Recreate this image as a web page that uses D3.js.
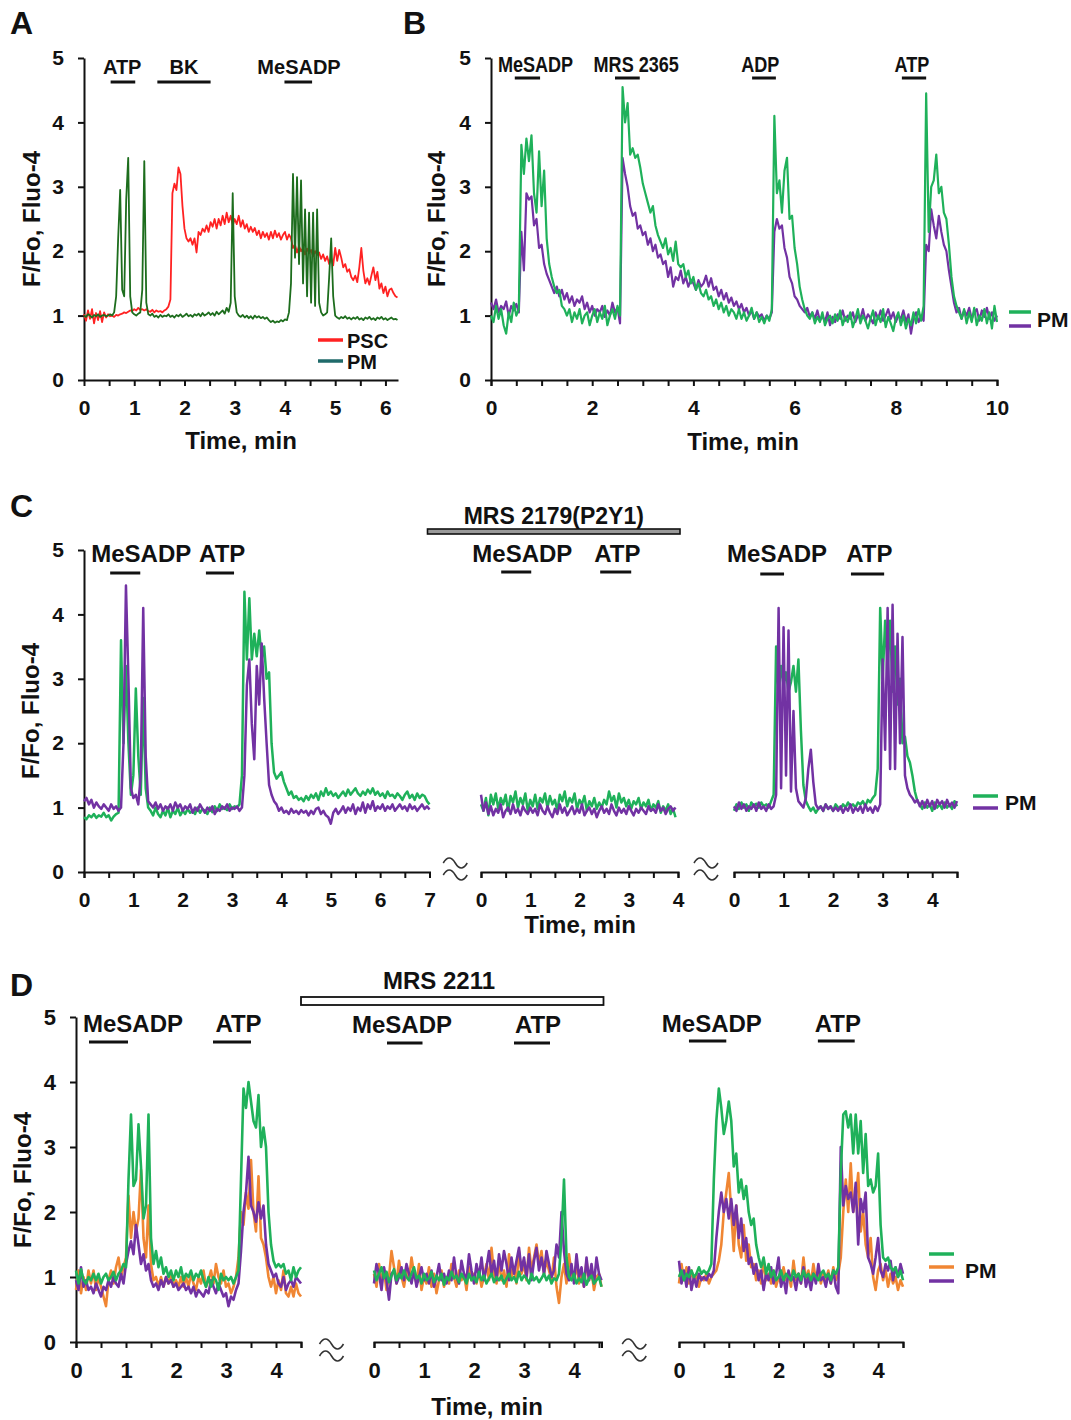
<!DOCTYPE html>
<html>
<head>
<meta charset="utf-8">
<script src="https://cdn.jsdelivr.net/npm/d3@7/dist/d3.min.js"></script>
<style>
  body { margin: 0; background: #fff; }
</style>
</head>
<body>
<div id="chart"></div>
<script>
// ---- sampling steps (min) ----
const dtA = 0.04;
const dt = 0.05;

// ---- tick labels ----
const ticksY = [0, 1, 2, 3, 4, 5];
const ticksA = [0, 1, 2, 3, 4, 5, 6];
const ticksB = [0, 2, 4, 6, 8, 10];
const ticksC1 = [0, 1, 2, 3, 4, 5, 6, 7];
const ticksShort = [0, 1, 2, 3, 4];

// ---- drug applications (minutes; mid = label centre) ----
const drugsA = [
  {name: 'ATP', on: 0.53, off: 1.02, mid: 0.76},
  {name: 'BK', on: 1.46, off: 2.52, mid: 1.99},
  {name: 'MeSADP', on: 3.99, off: 4.54, mid: 4.28}
];
const drugsB = [
  {name: 'MeSADP', on: 0.47, off: 0.97, mid: 0.88},
  {name: 'MRS 2365', on: 2.45, off: 2.94, mid: 2.87},
  {name: 'ADP', on: 5.16, off: 5.63, mid: 5.32},
  {name: 'ATP', on: 8.12, off: 8.6, mid: 8.32}
];
const drugsC1 = [
  {name: 'MeSADP', on: 0.53, off: 1.14, mid: 1.16},
  {name: 'ATP', on: 2.47, off: 3.04, mid: 2.8}
];
const drugsC2 = [
  {name: 'MeSADP', on: 0.41, off: 1.02, mid: 0.84},
  {name: 'ATP', on: 2.42, off: 3.05, mid: 2.77}
];
const drugsC3 = [
  {name: 'MeSADP', on: 0.53, off: 1.01, mid: 0.87},
  {name: 'ATP', on: 2.36, off: 3.03, mid: 2.73}
];
const drugsD1 = [
  {name: 'MeSADP', on: 0.26, off: 1.04, mid: 1.14},
  {name: 'ATP', on: 2.74, off: 3.5, mid: 3.25}
];
const drugsD2 = [
  {name: 'MeSADP', on: 0.26, off: 0.97, mid: 0.56},
  {name: 'ATP', on: 2.8, off: 3.52, mid: 3.28}
];
const drugsD3 = [
  {name: 'MeSADP', on: 0.2, off: 0.95, mid: 0.66},
  {name: 'ATP', on: 2.79, off: 3.53, mid: 3.19}
];

// ---- Panel A (step dtA) ----
const aPSC = [1.02,0.92,1.08,0.95,1.10,0.88,1.04,0.93,1.07,0.90,1.05,0.97,1.02,
  0.99,1.00,0.98,1.01,1.00,1.02,1.03,1.05,1.04,1.06,1.08,1.07,1.10,1.08,1.12,1.09,1.10,
  1.08,1.10,1.07,1.06,1.09,1.05,1.08,1.06,1.07,1.05,1.08,1.10,1.14,1.25,
  2.90,3.05,2.95,3.30,3.20,2.70,2.35,2.20,2.15,2.20,
  2.10,2.20,1.98,2.30,2.25,2.35,2.30,2.40,2.30,2.45,
  2.38,2.50,2.35,2.50,2.40,2.55,2.42,2.60,2.45,2.55,
  2.40,2.50,2.42,2.55,2.38,2.48,2.35,2.42,2.30,2.38,
  2.30,2.36,2.25,2.32,2.20,2.30,2.22,2.28,2.18,2.30,
  2.20,2.32,2.22,2.28,2.18,2.25,2.30,2.18,2.26,2.20,
  2.05,2.10,1.98,2.08,2.00,2.05,1.95,2.04,1.97,2.02,
  1.92,2.00,1.94,1.98,1.88,1.95,1.85,1.92,1.80,1.90,
  1.78,2.05,1.85,2.02,1.90,1.75,1.80,1.68,1.72,1.60,
  1.55,1.62,1.52,1.75,2.05,1.70,1.50,1.58,1.48,1.62,
  1.75,1.55,1.68,1.42,1.50,1.35,1.45,1.30,1.40,1.42,
  1.35,1.30,1.28];
const aPM = [1.00,0.98,1.02,1.00,0.97,1.01,0.99,1.02,0.98,1.00,1.01,0.99,1.00,1.02,1.00,1.05,
  1.30,2.20,2.95,1.40,1.30,2.80,3.45,1.30,1.05,1.02,1.00,1.03,1.05,1.40,3.40,1.20,
  1.02,1.00,1.03,0.98,1.00,0.97,1.01,0.98,1.00,0.99,1.02,0.98,1.00,0.97,1.01,0.99,
  1.02,0.98,1.00,1.03,0.99,1.01,0.98,1.02,1.00,1.03,0.99,1.04,1.00,1.02,1.05,1.01,
  1.04,1.00,1.06,1.02,1.05,1.08,1.03,1.12,1.06,1.20,2.90,1.30,1.05,1.00,0.98,1.01,
  0.97,1.00,0.96,0.99,0.95,1.00,0.97,0.99,0.96,0.98,0.95,0.97,0.93,0.90,0.92,0.89,
  0.91,0.90,0.93,0.91,0.94,0.93,1.05,1.50,3.20,1.90,3.15,1.80,3.10,1.50,2.65,1.30,
  2.60,1.20,2.60,1.15,2.65,1.20,1.05,1.00,1.02,1.05,1.60,2.20,1.30,1.00,
  0.97,0.95,0.98,0.96,0.99,0.95,0.97,0.94,0.97,0.95,0.98,0.94,0.96,0.93,0.97,
  0.95,0.98,0.94,0.96,0.93,0.97,0.95,0.98,0.94,0.96,0.93,0.95,0.97,0.94,0.95,0.93];

// ---- Panel B (step dt) ----
const bGreen = [1.00,0.90,1.15,0.95,1.10,0.85,0.72,1.05,0.90,1.20,
  1.00,1.10,3.65,3.20,3.75,3.40,3.80,2.90,2.60,3.55,
  2.70,3.25,2.20,1.80,1.60,1.45,1.35,1.40,1.15,1.10,
  1.00,1.10,0.90,1.05,0.95,1.10,0.88,1.00,1.05,0.85,
  1.00,1.10,0.90,1.05,0.95,1.15,0.85,1.00,1.10,0.95,
  1.15,1.00,4.55,4.00,4.30,3.50,3.60,3.45,3.50,3.30,
  3.05,2.90,2.75,2.60,2.70,2.40,2.25,2.15,2.05,2.20,
  1.95,2.05,1.85,2.15,1.80,1.75,1.80,1.60,1.70,1.50,
  1.60,1.40,1.50,1.35,1.30,1.40,1.25,1.30,1.15,1.25,
  1.10,1.20,1.05,1.15,1.00,1.10,1.05,0.95,1.10,0.95,
  1.05,0.92,1.00,1.12,0.95,1.05,0.90,0.98,0.88,1.00,
  0.92,1.10,4.10,2.90,3.10,2.60,3.25,3.45,2.50,2.55,
  2.05,1.80,1.45,1.25,1.10,1.00,0.95,1.05,0.88,0.98,
  0.90,1.05,0.85,0.95,1.00,0.88,1.02,0.92,1.08,0.85,
  0.98,0.90,1.05,0.82,0.95,1.10,0.88,1.00,0.92,0.80,
  0.95,1.08,0.85,1.00,0.90,1.10,0.82,0.98,0.88,0.76,
  0.95,1.05,0.85,1.00,0.80,0.95,0.85,1.05,0.88,1.10,
  0.92,1.15,4.45,2.30,3.00,3.10,3.50,2.90,3.00,2.60,
  2.50,2.10,1.60,1.30,1.15,1.05,0.95,1.10,0.88,1.05,
  0.90,1.12,0.85,1.00,0.92,1.10,0.88,1.05,0.80,1.15,
  0.90];
const bPurple = [1.20,1.10,1.25,1.05,1.15,1.10,1.22,1.00,1.15,1.08,
  1.18,1.05,2.30,1.70,2.90,2.80,2.85,2.40,2.50,2.05,
  2.10,1.80,1.65,1.55,1.45,1.35,1.45,1.30,1.40,1.25,
  1.35,1.20,1.30,1.15,1.25,1.20,1.30,1.10,1.20,1.05,
  1.15,1.00,1.10,1.05,1.15,0.98,1.08,1.00,1.20,1.05,
  1.12,0.88,3.45,3.20,3.00,2.70,2.55,2.60,2.35,2.40,
  2.25,2.30,2.10,2.20,2.00,2.10,1.90,1.95,1.80,1.85,
  1.60,1.75,1.45,1.60,1.55,1.70,1.50,1.60,1.45,1.55,
  1.50,1.40,1.55,1.45,1.50,1.62,1.45,1.58,1.40,1.45,
  1.30,1.40,1.25,1.35,1.20,1.28,1.15,1.22,1.10,1.18,
  1.05,1.12,1.00,1.08,0.95,1.05,0.98,1.02,0.92,1.00,
  0.95,1.05,2.30,2.50,2.35,2.40,2.05,1.90,1.60,1.50,
  1.30,1.25,1.15,1.10,1.05,1.12,0.98,1.05,0.95,1.08,
  0.92,1.00,0.90,1.05,0.85,0.98,0.90,1.02,0.95,1.08,
  0.92,1.00,0.95,1.05,0.90,1.00,0.95,1.10,0.92,1.02,
  0.96,0.88,1.05,0.95,1.08,0.92,1.00,1.10,0.95,1.05,
  0.90,1.00,0.95,1.08,0.90,1.02,0.72,0.95,1.05,0.90,
  1.00,0.92,2.10,2.00,2.65,2.40,2.20,2.55,2.30,2.10,
  2.00,1.70,1.45,1.20,1.05,1.12,0.95,1.08,1.00,1.12,
  0.95,1.05,1.10,0.92,1.08,0.98,1.12,0.95,1.05,0.92,
  1.00];

// ---- Panel C (step dt) ----
const c1Green = [0.85,0.82,0.88,0.85,0.90,0.84,0.88,0.86,0.92,0.85,
  0.88,0.80,0.86,0.90,0.92,3.60,2.00,3.20,2.00,1.20,
  1.50,2.85,1.80,1.20,2.70,1.30,1.00,0.95,0.88,1.00,
  0.90,0.85,0.95,0.88,1.00,0.85,0.95,0.90,1.00,0.88,
  0.95,0.90,0.98,0.92,0.95,0.90,1.00,0.92,0.98,0.95,
  0.90,1.00,0.93,1.02,0.95,1.05,0.98,1.00,0.96,1.05,
  0.98,1.02,1.00,1.05,1.50,4.35,3.30,4.25,3.30,3.70,
  3.35,3.75,3.30,3.50,3.00,3.10,2.00,1.55,1.45,1.50,
  1.55,1.40,1.30,1.20,1.25,1.15,1.18,1.12,1.15,1.10,
  1.18,1.12,1.20,1.15,1.22,1.12,1.25,1.18,1.30,1.20,
  1.25,1.18,1.22,1.15,1.20,1.25,1.18,1.28,1.20,1.25,
  1.30,1.22,1.18,1.25,1.20,1.28,1.22,1.30,1.20,1.25,
  1.18,1.22,1.15,1.25,1.18,1.20,1.15,1.22,1.18,1.12,
  1.20,1.25,1.15,1.20,1.12,1.22,1.15,1.20,1.18,1.10,
  1.05];
const c1Purple = [1.10,1.15,1.05,1.12,1.00,1.08,1.02,0.98,1.05,1.00,
  0.95,1.05,0.98,1.02,0.95,1.00,2.00,4.45,3.00,1.30,
  1.15,1.20,1.05,1.50,4.10,1.80,1.10,1.05,1.00,1.08,
  0.98,1.05,0.95,1.02,0.98,1.05,0.95,1.08,1.00,1.05,
  0.95,1.02,0.98,1.05,0.92,1.00,0.95,1.05,0.98,0.92,
  1.00,0.95,1.02,0.90,0.98,0.95,1.02,0.98,1.05,0.95,
  1.00,0.98,1.02,0.95,1.00,1.50,2.90,3.30,2.30,1.75,
  3.20,2.60,3.55,2.70,2.00,1.35,1.20,1.10,1.05,0.95,
  1.00,0.92,0.95,0.90,0.98,0.92,0.95,0.90,0.96,0.92,
  0.95,0.88,0.95,0.90,0.98,1.00,0.90,0.95,0.88,0.85,
  0.75,0.92,0.98,0.90,0.95,1.02,0.92,1.00,0.95,1.05,
  0.90,1.00,0.95,1.08,0.92,1.05,0.98,1.10,0.95,1.02,
  0.98,1.05,0.95,1.02,0.98,1.05,0.95,1.00,1.05,0.98,
  1.02,0.95,1.05,0.98,1.02,0.95,1.00,1.05,0.98,1.02,
  0.97];
const c2Green = [1.05,0.95,1.15,0.88,1.20,1.05,1.22,0.98,1.15,1.05,
  1.20,0.95,1.18,1.08,1.25,1.00,1.15,1.05,1.22,0.95,
  1.12,1.02,1.20,0.98,1.15,1.08,1.22,1.00,1.18,1.05,
  1.12,0.95,1.20,1.10,1.25,1.02,1.15,1.08,1.22,0.98,
  1.12,1.05,1.18,0.95,1.10,1.02,1.15,0.98,1.08,1.00,
  1.12,1.05,1.25,1.10,1.18,1.00,1.22,1.08,1.15,1.02,
  1.12,0.98,1.10,1.05,1.15,0.98,1.08,1.02,1.12,0.95,
  1.05,1.00,1.10,0.92,1.02,0.95,1.05,0.90,0.98,0.85];
const c2Purple = [1.20,0.95,1.08,0.90,1.02,0.88,0.98,0.92,1.05,0.85,
  0.95,1.00,0.90,1.05,0.92,0.98,0.88,1.02,0.95,0.90,
  1.00,0.92,0.98,0.88,1.05,0.95,0.90,1.02,0.92,0.85,
  0.98,0.90,1.05,0.92,1.00,0.88,0.95,1.02,0.90,0.98,
  0.92,1.05,0.88,0.95,1.00,0.90,0.98,0.85,0.95,1.02,
  0.92,0.98,0.90,1.05,0.95,0.88,1.00,0.92,0.98,0.90,
  1.02,0.95,0.88,0.98,0.92,1.00,0.95,0.90,1.02,0.95,
  0.98,0.92,1.05,0.95,1.00,0.90,0.98,1.02,0.95,1.00];
const c3Green = [0.95,1.05,0.98,1.08,1.00,1.05,0.95,1.08,1.02,1.06,
  1.00,1.08,1.02,1.05,1.00,1.10,1.20,3.50,2.80,3.20,
  2.90,3.10,2.80,2.95,3.20,2.80,3.30,2.20,1.35,1.10,
  1.02,0.95,1.00,0.92,0.98,1.02,0.95,1.05,0.98,1.02,
  0.95,1.05,1.00,0.98,1.05,1.00,1.08,1.02,1.05,1.00,
  1.08,1.05,1.10,1.02,1.12,1.08,1.15,1.20,1.60,4.10,
  3.00,3.90,3.20,3.90,2.80,3.50,2.60,3.00,2.00,2.10,
  1.80,1.70,1.50,1.25,1.10,1.05,0.98,1.08,1.00,1.05,
  0.95,1.08,1.00,1.05,0.98,1.08,1.00,1.05,0.98,1.10,
  1.02];
const c3Purple = [1.02,0.95,1.08,0.98,1.05,0.95,1.02,0.98,1.05,0.95,
  1.08,0.98,1.02,0.95,1.05,0.98,1.02,1.20,4.10,1.30,
  3.80,1.50,3.75,1.25,2.50,1.30,1.10,1.05,1.00,1.15,
  1.60,1.90,1.40,1.05,0.98,1.02,0.95,1.05,0.98,1.02,
  0.95,1.00,0.95,1.02,0.92,1.00,0.95,1.05,0.92,1.00,
  0.95,1.02,0.92,1.05,0.95,1.00,0.92,1.02,0.95,1.05,
  3.30,1.90,4.10,1.60,4.15,1.60,3.70,2.00,3.65,1.50,
  1.30,1.20,1.15,1.08,1.12,1.02,1.10,1.00,1.12,1.02,
  1.10,0.98,1.12,1.05,1.10,1.00,1.12,1.02,1.08,1.00,
  1.10];

// ---- Panel D (step dt) ----
const d1Green = [1.10,0.90,1.12,0.95,0.90,1.00,0.95,1.05,0.95,1.05,
  0.90,1.00,1.05,0.95,1.00,1.08,0.95,1.05,1.10,1.20,
  1.15,2.50,3.50,2.40,2.50,3.35,2.70,1.90,2.10,3.50,
  1.60,1.20,1.40,1.15,1.30,1.05,1.15,1.00,1.10,0.95,
  1.10,1.00,1.15,0.95,1.05,1.00,1.10,0.95,1.05,1.00,
  1.10,0.95,0.85,1.00,0.85,1.00,0.95,0.80,1.05,0.95,
  1.00,0.95,1.00,0.90,1.00,1.10,2.50,3.90,3.60,4.00,
  3.70,3.40,3.30,3.80,3.00,3.30,3.00,2.00,1.50,1.25,
  1.15,1.20,1.15,1.20,1.05,1.10,0.95,1.15,1.00,1.10,
  1.15];
const d1Orange = [0.80,1.10,0.75,1.00,0.80,1.10,0.90,1.10,0.80,1.00,
  0.85,0.70,0.55,0.95,1.10,0.90,1.15,1.30,1.00,1.15,
  1.30,2.25,1.60,2.00,1.70,1.90,2.65,1.60,1.30,2.10,
  1.20,0.95,1.00,0.85,1.00,0.85,1.00,0.90,1.05,0.85,
  0.95,0.85,1.00,0.85,1.00,0.85,1.05,0.90,0.80,1.00,
  0.90,1.10,0.85,0.95,1.10,0.90,1.20,1.00,0.90,1.10,
  0.85,0.90,0.75,0.85,1.00,1.30,2.00,1.80,2.30,2.05,
  2.80,2.00,1.70,2.55,1.60,1.50,1.30,1.00,0.85,1.00,
  0.75,0.95,0.80,1.10,0.75,0.70,0.85,0.70,0.90,0.75,
  0.70];
const d1Purple = [0.95,0.80,1.15,0.85,0.95,0.80,0.85,0.75,0.90,0.80,
  0.70,0.85,0.80,0.95,0.85,1.00,0.90,0.85,1.05,0.90,
  1.20,1.40,1.55,1.35,1.80,1.50,1.20,1.35,1.10,1.20,
  0.95,0.85,0.90,0.80,0.95,0.85,1.00,0.90,0.95,0.85,
  0.90,0.80,0.85,0.90,0.80,0.85,0.75,0.85,0.70,0.80,
  0.75,0.70,0.80,0.75,0.95,0.85,0.75,0.90,0.80,0.70,
  0.75,0.55,0.70,0.65,0.80,0.90,1.40,2.00,2.30,2.85,
  2.10,2.00,1.85,2.15,1.90,2.10,1.50,1.20,1.10,1.00,
  1.05,0.90,0.85,1.00,0.80,0.90,0.95,0.85,1.00,0.95,
  0.90];
const d2Green = [1.10,0.95,1.05,1.15,0.98,1.08,0.92,1.02,1.12,0.95,
  1.05,0.98,1.10,1.00,0.95,1.05,1.15,0.98,1.02,0.90,
  1.05,0.95,0.98,1.08,0.92,1.02,0.95,1.05,0.88,1.00,
  0.95,1.08,0.98,1.02,0.92,1.05,0.98,0.90,1.05,0.95,
  1.00,0.92,1.08,0.95,1.02,0.90,0.98,1.05,0.92,1.00,
  0.95,1.02,0.90,0.98,1.05,0.95,1.00,0.92,1.08,0.95,
  1.02,0.98,0.90,1.05,0.95,1.00,0.92,0.98,1.05,0.95,
  1.02,0.90,0.98,0.95,1.05,1.60,2.50,1.30,1.00,0.95,
  1.05,0.90,0.98,0.92,1.05,0.88,0.98,1.02,0.90,0.95,
  1.00,0.85];
const d2Orange = [1.05,0.85,1.20,0.95,1.10,0.80,1.00,1.40,1.15,0.90,
  1.25,1.00,0.85,1.10,0.95,1.30,1.05,0.90,1.20,0.80,
  1.00,0.90,1.15,0.85,1.05,0.75,0.95,1.10,0.85,1.00,
  0.90,1.20,1.00,0.85,1.10,0.95,1.05,0.80,1.15,0.95,
  1.05,0.90,1.10,0.85,1.00,1.20,0.95,1.45,1.05,0.90,
  1.25,0.95,1.10,0.85,1.35,1.00,1.15,0.90,1.40,1.05,
  1.20,0.95,1.45,1.10,1.30,1.50,1.20,1.40,1.05,1.25,
  1.10,0.95,1.30,0.85,0.60,1.00,1.20,0.90,1.35,1.05,
  0.95,1.20,0.90,1.05,0.85,1.25,0.95,1.10,0.80,1.00,
  1.05,0.85];
const d2Purple = [0.90,1.20,1.05,0.80,1.15,0.95,0.65,1.05,1.10,0.90,
  1.00,1.15,0.95,1.20,1.05,0.90,1.10,0.85,1.00,1.15,
  0.95,1.05,0.90,1.10,0.85,1.00,1.20,0.95,1.05,0.90,
  1.10,0.95,1.30,1.00,0.90,1.25,1.05,0.95,1.35,1.10,
  0.90,1.20,1.00,1.30,0.95,1.15,1.40,1.05,1.25,0.95,
  1.35,1.10,1.40,1.20,0.95,1.30,1.05,1.25,1.45,1.10,
  1.30,1.00,1.35,0.95,1.25,1.45,1.10,1.30,1.05,1.40,
  1.20,1.00,1.10,1.50,1.30,2.00,1.40,1.05,0.95,1.20,
  0.90,1.35,1.00,1.15,0.85,1.30,0.95,1.20,0.90,1.30,
  1.05,0.95];
const d3Green = [1.00,1.10,0.95,1.05,1.00,1.10,1.00,1.05,1.15,1.05,
  1.10,1.05,1.10,1.20,2.50,3.40,3.90,3.60,3.20,3.40,
  3.70,3.40,2.70,2.90,2.30,2.50,2.20,2.40,2.00,1.80,
  1.90,1.50,1.30,1.15,1.30,1.05,1.20,1.00,1.10,0.95,
  1.00,1.10,0.95,1.05,1.00,0.95,1.10,1.00,1.05,0.95,
  1.10,1.00,1.05,0.95,1.05,1.00,0.95,1.05,1.10,1.00,
  1.05,0.95,1.10,1.05,1.15,2.60,3.50,3.55,3.30,3.50,
  2.90,3.50,2.90,3.40,2.60,3.20,2.40,2.50,2.30,2.40,
  2.90,1.80,1.30,1.25,1.30,1.15,1.10,1.15,1.00,1.10,
  0.95];
const d3Orange = [0.90,1.20,0.95,1.15,0.90,1.10,0.95,1.05,0.85,1.00,
  0.95,1.05,0.90,1.00,1.05,1.10,1.25,1.50,2.00,2.30,
  2.60,2.00,1.40,2.10,1.50,1.30,1.80,1.25,1.50,1.15,
  1.20,0.95,1.10,0.90,1.25,0.95,1.05,0.90,1.10,0.85,
  1.00,0.90,1.15,0.95,1.05,0.85,1.25,0.95,1.05,0.90,
  1.30,0.95,1.10,0.90,1.20,0.95,1.10,0.90,1.05,0.95,
  1.10,0.90,1.15,0.95,1.05,1.30,2.00,2.50,2.00,2.75,
  2.00,2.20,2.60,1.70,2.00,1.50,1.30,1.60,1.00,0.80,
  1.10,1.20,0.95,1.10,0.85,1.05,0.90,1.00,0.80,0.95,
  0.85];
const d3Purple = [1.25,0.90,1.10,0.85,1.15,0.80,1.00,0.85,1.05,0.95,
  1.00,0.95,1.05,1.00,1.10,1.60,2.00,2.30,2.00,2.20,
  1.90,2.20,1.80,2.10,1.60,1.90,1.40,1.60,1.20,1.30,
  1.05,1.20,0.95,1.10,0.80,1.05,0.95,1.15,0.90,1.05,
  1.30,0.85,1.00,0.75,1.10,0.95,1.00,0.80,1.05,0.90,
  1.15,0.85,1.00,0.80,1.05,0.90,1.20,0.95,1.00,0.85,
  1.05,0.90,1.10,0.85,0.75,3.00,2.10,2.40,2.20,2.30,
  2.00,2.45,1.50,2.20,2.00,2.30,1.30,1.20,1.05,1.30,
  1.60,1.10,1.00,1.20,1.10,1.25,0.95,1.15,1.00,1.20,
  1.05];

// ---- drawing ----
const FONT = '"Liberation Sans", Arial, Helvetica, sans-serif';
const GREEN = '#1fb15a', PURPLE = '#7232a3', ORANGE = '#f08633', RED = '#ff2222';
const DKGREEN = '#1d6d1d', TEAL = '#1f6a6a', INK = '#111';

const svg = d3.select('#chart')
              .append('svg')
              .attr('width', 1071)
              .attr('height', 1420)
              .attr('font-family', FONT)
              .attr('font-weight', 'bold');

function series(values, step) {
  return values.map((v, i) => [i * step, v]);
}

function styleAxis(g, size) {
  g.attr('font-family', FONT).attr('font-weight', 'bold').attr('font-size', size);
  g.selectAll('path, line').attr('stroke', INK).attr('stroke-width', 2);
  g.selectAll('text').attr('fill', INK);
}

function xAxis(x, y, labels, outer, size) {
  const ticks = d3.range(0, x.domain()[1] + 0.001, 0.5);
  const axis = d3.axisBottom(x)
                 .tickValues(ticks)
                 .tickSize(6)
                 .tickSizeOuter(outer)
                 .tickPadding(14)
                 .tickFormat(d => labels.indexOf(d) >= 0 ? d : '');
  const g = svg.append('g')
               .attr('transform', 'translate(0,' + y.range()[0] + ')')
               .call(axis);
  styleAxis(g, size);
}

function yAxis(y, xPos, size) {
  const axis = d3.axisLeft(y)
                 .tickValues(ticksY)
                 .tickSize(6)
                 .tickSizeOuter(0)
                 .tickPadding(14)
                 .tickFormat(d3.format('d'));
  const g = svg.append('g')
               .attr('transform', 'translate(' + xPos + ',0)')
               .call(axis);
  styleAxis(g, size);
}

function traces(x, y, list, width) {
  const line = d3.line().x(d => x(d[0])).y(d => y(d[1]));
  list.forEach(t => {
    svg.append('path')
       .datum(series(t.values, t.step))
       .attr('d', line)
       .attr('fill', 'none')
       .attr('stroke', t.color)
       .attr('stroke-width', width)
       .attr('stroke-linejoin', 'round');
  });
}

function drugs(x, list, textY, barY, size, squeeze) {
  list.forEach(d => {
    svg.append('line')
       .attr('x1', x(d.on)).attr('x2', x(d.off))
       .attr('y1', barY).attr('y2', barY)
       .attr('stroke', INK).attr('stroke-width', 3);
    const t = svg.append('text')
                 .attr('x', x(d.mid)).attr('y', textY)
                 .attr('text-anchor', 'middle')
                 .attr('font-size', size)
                 .attr('fill', INK)
                 .text(d.name);
    if (squeeze) {
      const w = t.node().getComputedTextLength();
      t.attr('textLength', w * squeeze).attr('lengthAdjust', 'spacingAndGlyphs');
    }
  });
}

function yTitle(cx, cy) {
  svg.append('text')
     .attr('transform', 'translate(' + cx + ',' + cy + ') rotate(-90)')
     .attr('text-anchor', 'middle').attr('dy', '0.35em')
     .attr('font-size', 24).attr('fill', INK)
     .text('F/Fo, Fluo-4');
}

function xTitle(cx, baseline) {
  svg.append('text')
     .attr('x', cx).attr('y', baseline)
     .attr('text-anchor', 'middle')
     .attr('font-size', 24).attr('fill', INK)
     .text('Time, min');
}

function panelLetter(letter, x, y) {
  svg.append('text').attr('x', x).attr('y', y).attr('font-size', 32).attr('fill', INK).text(letter);
}

function breakMark(cx, cy) {
  [-6, 6].forEach(off => {
    svg.append('path')
       .attr('d', 'M' + (cx - 12) + ',' + (cy + off + 2) + ' q6,-10 12,0 t12,0')
       .attr('fill', 'none').attr('stroke', '#333').attr('stroke-width', 1.6);
  });
}

function legend(x1, x2, rows, textX, textY, size, name) {
  rows.forEach(r => {
    svg.append('line').attr('x1', x1).attr('x2', x2).attr('y1', r.y).attr('y2', r.y)
       .attr('stroke', r.color).attr('stroke-width', 3.5);
  });
  svg.append('text').attr('x', textX).attr('y', textY).attr('font-size', size).attr('fill', INK).text(name);
}

// ---------- Panel A ----------
const yA = d3.scaleLinear().domain([0, 5]).range([380, 58]);
const xA = d3.scaleLinear().domain([0, 6.25]).range([84, 398]);
panelLetter('A', 10, 34);
xAxis(xA, yA, ticksA, 0, 21);
yAxis(yA, 84, 21);
traces(xA, yA, [{values: aPSC, step: dtA, color: RED}, {values: aPM, step: dtA, color: DKGREEN}], 1.8);
drugs(xA, drugsA, 74, 82, 20);
yTitle(32, 219);
xTitle(241, 449);
svg.append('line').attr('x1', 318).attr('x2', 343).attr('y1', 340).attr('y2', 340).attr('stroke', RED).attr('stroke-width', 3.5);
svg.append('text').attr('x', 347).attr('y', 348).attr('font-size', 20).attr('fill', INK).text('PSC');
legend(318, 343, [{y: 361, color: TEAL}], 347, 369, 20, 'PM');

// ---------- Panel B ----------
const yB = d3.scaleLinear().domain([0, 5]).range([380, 58]);
const xB = d3.scaleLinear().domain([0, 10]).range([491, 997]);
panelLetter('B', 403, 34);
xAxis(xB, yB, ticksB, 6, 21);
yAxis(yB, 491, 21);
traces(xB, yB, [{values: bPurple, step: dt, color: PURPLE}, {values: bGreen, step: dt, color: GREEN}], 2.2);
drugs(xB, drugsB, 72, 78, 22, 0.82);
yTitle(437, 219);
xTitle(743, 450);
legend(1009, 1031, [{y: 312, color: GREEN}, {y: 326, color: PURPLE}], 1037, 327, 21, 'PM');

// ---------- Panel C ----------
const yC = d3.scaleLinear().domain([0, 5]).range([872, 550]);
const xC1 = d3.scaleLinear().domain([0, 7]).range([84, 429.5]);
const xC2 = d3.scaleLinear().domain([0, 4]).range([481, 678]);
const xC3 = d3.scaleLinear().domain([0, 4.5]).range([734, 957]);
panelLetter('C', 10, 517);
yAxis(yC, 84, 21);
xAxis(xC1, yC, ticksC1, 6, 21);
xAxis(xC2, yC, ticksShort, 6, 21);
xAxis(xC3, yC, ticksShort, 6, 21);
traces(xC1, yC, [{values: c1Green, step: dt, color: GREEN}, {values: c1Purple, step: dt, color: PURPLE}], 2.5);
traces(xC2, yC, [{values: c2Green, step: dt, color: GREEN}, {values: c2Purple, step: dt, color: PURPLE}], 2.5);
traces(xC3, yC, [{values: c3Green, step: dt, color: GREEN}, {values: c3Purple, step: dt, color: PURPLE}], 2.5);
drugs(xC1, drugsC1, 562, 573, 24);
drugs(xC2, drugsC2, 562, 572, 24);
drugs(xC3, drugsC3, 562, 574, 24);
svg.append('rect')
   .attr('x', xC1(7) - 2).attr('y', 529)
   .attr('width', xC2(4) + 2 - (xC1(7) - 2)).attr('height', 5)
   .attr('fill', '#9a9a9a').attr('stroke', INK).attr('stroke-width', 1.6);
svg.append('text')
   .attr('x', (xC1(7) + xC2(4)) / 2).attr('y', 524)
   .attr('text-anchor', 'middle').attr('font-size', 23).attr('fill', INK)
   .text('MRS 2179(P2Y1)');
breakMark((xC1(7) + xC2(0)) / 2, 867);
breakMark((xC2(4) + xC3(0)) / 2, 867);
yTitle(31, 711);
xTitle(580, 933);
legend(973, 998, [{y: 796, color: GREEN}, {y: 808, color: PURPLE}], 1005, 810, 21, 'PM');

// ---------- Panel D ----------
const yD = d3.scaleLinear().domain([0, 5]).range([1342, 1017]);
const xD1 = d3.scaleLinear().domain([0, 4.5]).range([76, 301]);
const xD2 = d3.scaleLinear().domain([0, 4.55]).range([374, 601.5]);
const xD3 = d3.scaleLinear().domain([0, 4.5]).range([679, 903]);
panelLetter('D', 10, 996);
yAxis(yD, 76, 22);
xAxis(xD1, yD, ticksShort, 6, 22);
xAxis(xD2, yD, ticksShort, 6, 22);
xAxis(xD3, yD, ticksShort, 6, 22);
traces(xD1, yD, [{values: d1Orange, step: dt, color: ORANGE}, {values: d1Purple, step: dt, color: PURPLE}, {values: d1Green, step: dt, color: GREEN}], 2.6);
traces(xD2, yD, [{values: d2Orange, step: dt, color: ORANGE}, {values: d2Purple, step: dt, color: PURPLE}, {values: d2Green, step: dt, color: GREEN}], 2.6);
traces(xD3, yD, [{values: d3Orange, step: dt, color: ORANGE}, {values: d3Purple, step: dt, color: PURPLE}, {values: d3Green, step: dt, color: GREEN}], 2.6);
drugs(xD1, drugsD1, 1032, 1042, 24);
drugs(xD2, drugsD2, 1033, 1043, 24);
drugs(xD3, drugsD3, 1032, 1041, 24);
svg.append('rect')
   .attr('x', xD1(4.5)).attr('y', 997)
   .attr('width', xD2(4.55) + 2 - xD1(4.5)).attr('height', 8)
   .attr('fill', '#fff').attr('stroke', INK).attr('stroke-width', 1.8);
svg.append('text')
   .attr('x', xD2(1.3)).attr('y', 989)
   .attr('text-anchor', 'middle').attr('font-size', 24).attr('fill', INK)
   .text('MRS 2211');
breakMark((xD1(4.5) + xD2(0)) / 2 - 6, 1348);
breakMark((xD2(4.55) + xD3(0)) / 2 - 6, 1348);
yTitle(23, 1180);
xTitle(487, 1415);
legend(929, 954, [{y: 1254, color: GREEN}, {y: 1267, color: ORANGE}, {y: 1281, color: PURPLE}], 965, 1278, 21, 'PM');
</script>
</body>
</html>
